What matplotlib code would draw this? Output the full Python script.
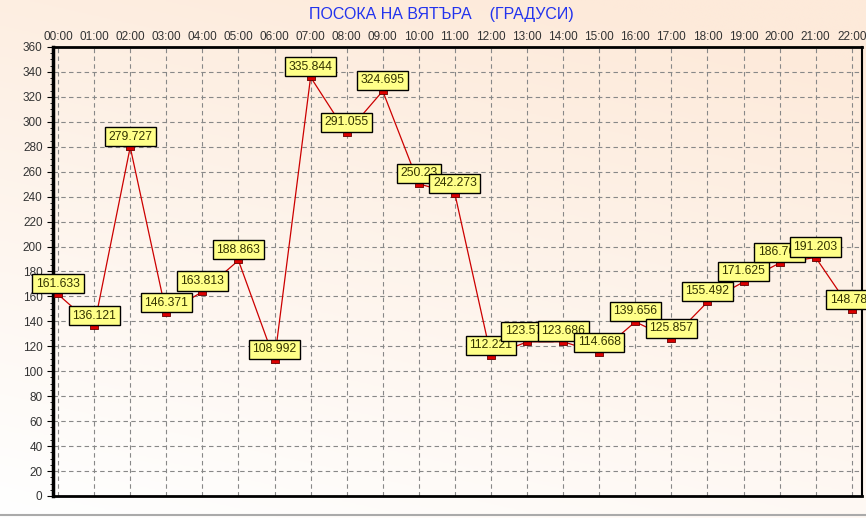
import numpy as np
import matplotlib.pyplot as plt
from matplotlib.ticker import MultipleLocator

hours = ['00:00', '01:00', '02:00', '03:00', '04:00', '05:00', '06:00', '07:00',
         '08:00', '09:00', '10:00', '11:00', '12:00', '13:00', '14:00', '15:00',
         '16:00', '17:00', '18:00', '19:00', '20:00', '21:00', '22:00']
direction = [161.633, 136.121, 279.727, 146.371, 163.813, 188.863, 108.992, 335.844,
             291.055, 324.695, 250.23, 242.273, 112.221, 123.574, 123.686, 114.668,
             139.656, 125.857, 155.492, 171.625, 186.764, 191.203, 148.782]

plt.rcParams['font.family'] = ['Liberation Sans', 'DejaVu Sans']

fig = plt.figure(figsize=(8.66, 5.18), dpi=100)

# фон - преливка от праскова към бяло
bg = fig.add_axes([0, 0, 1, 1], zorder=-10)
yy, xx = np.mgrid[0:1:200j, 0:1:200j]
t = np.clip(0.8 * yy + 0.3 * xx, 0, 1)
top = np.array([253, 234, 218]) / 255
bot = np.array([255, 255, 255]) / 255
img = bot + (top - bot) * t[..., None]
bg.imshow(img, origin='lower', extent=[0, 1, 0, 1], aspect='auto')
bg.axhline(0.006, color='#aaaaaa', lw=1.5)
bg.set_xlim(0, 1)
bg.set_ylim(0, 1)
bg.axis('off')

ax = fig.add_axes([0.0612, 0.0425, 0.934, 0.8668])
ax.patch.set_alpha(0)
x = np.arange(len(hours))
rect = [(-1, -0.6), (1, -0.6), (1, 0.6), (-1, 0.6), (-1, -0.6)]
ax.plot(x, direction, color='#cc0000', lw=0.9, zorder=3)
ax.plot(x, direction, ls='none', marker=rect, ms=6, mfc='#dd0000', mec='#660000',
        mew=0.6, zorder=4)

for i, v in enumerate(direction):
    ax.annotate(str(v), (i, v), xytext=(0, 4.6), textcoords='offset pixels',
                ha='center', va='bottom', fontsize=8.7, color='#333300',
                bbox=dict(boxstyle='square,pad=0.3', fc='#ffff88', ec='black', lw=1),
                zorder=5 + i, annotation_clip=False)

ax.set_xlim(-0.14, 22.28)
ax.set_ylim(0, 360)
ax.set_xticks(x)
ax.set_xticklabels(hours)
ax.xaxis.tick_top()
ax.yaxis.set_major_locator(MultipleLocator(20))
ax.yaxis.set_minor_locator(MultipleLocator(5))
ax.tick_params(axis='x', length=0, labelsize=8.5, labelcolor='#333333', pad=3)
ax.tick_params(axis='y', which='major', length=4, labelsize=8.5, labelcolor='#333333')
ax.tick_params(axis='y', which='minor', length=2)
ax.grid(True, color='#888888', ls=(0, (4, 3)), lw=0.8)

ax.spines['left'].set_linewidth(2.5)
ax.spines['right'].set_linewidth(1.5)
ax.spines['top'].set_linestyle((0, (4, 1)))
ax.spines['top'].set_linewidth(2)
ax.spines['bottom'].set_linestyle((0, (4, 1)))
ax.spines['bottom'].set_linewidth(2)

fig.text(0.51, 0.972, 'ПОСОКА НА ВЯТЪРА    (ГРАДУСИ)', ha='center', va='center',
         fontsize=11.5, color='#2233ee')

fig.savefig('out.png', dpi=100)
